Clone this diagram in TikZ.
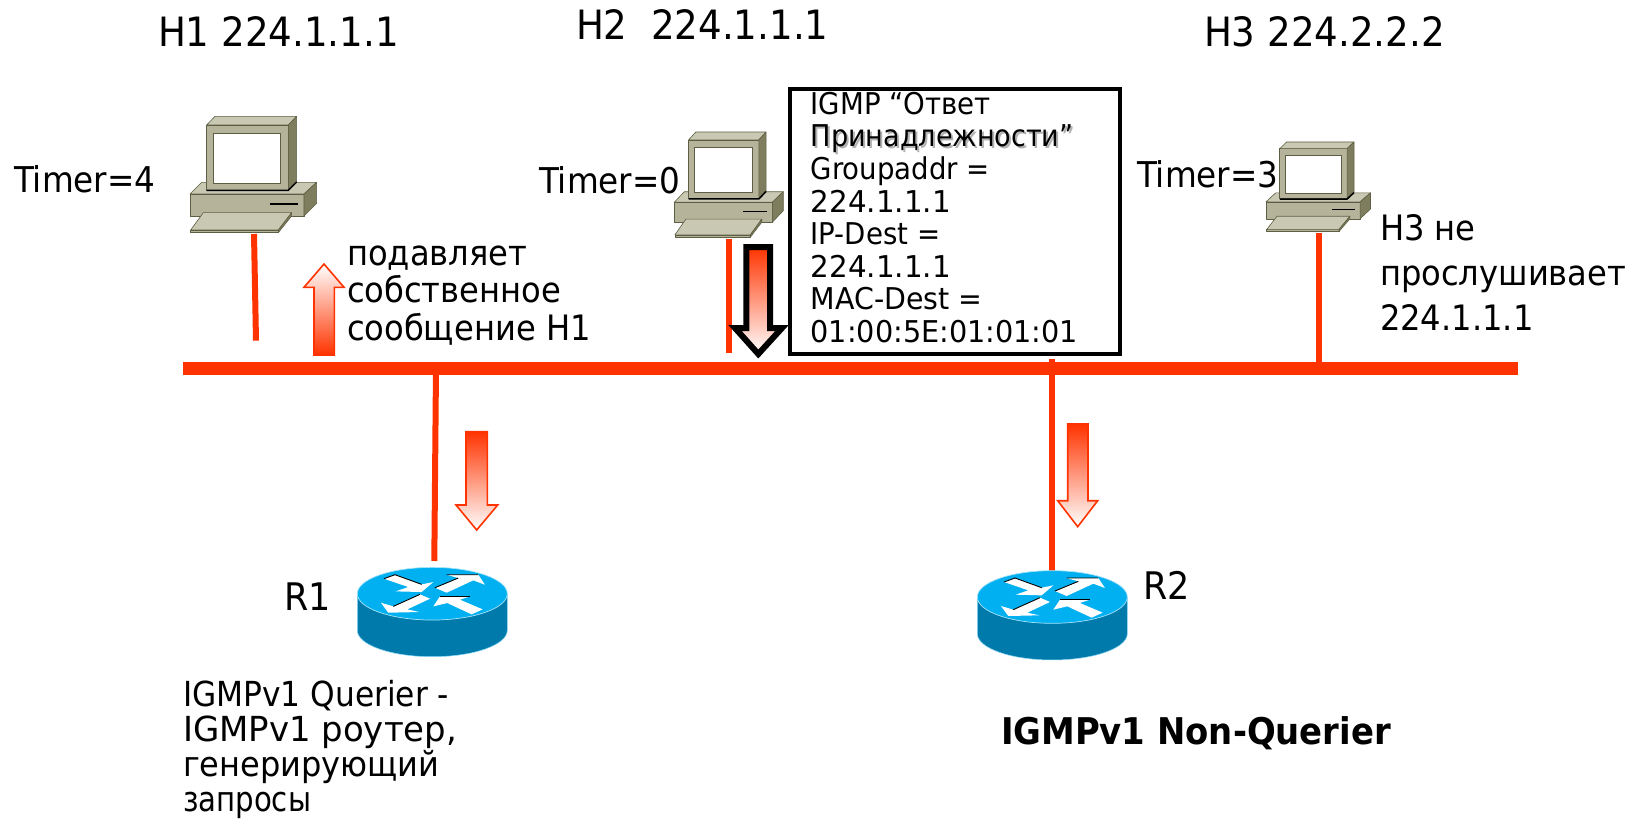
\documentclass[tikz,border=0pt]{standalone}
\usepackage{graphicx}
\usepackage{fontspec}
\setmainfont[FakeStretch=0.92]{DejaVu Sans}
\definecolor{netred}{HTML}{FF3300}
\definecolor{pcfront}{HTML}{B5B49A}
\definecolor{pctop}{HTML}{C9C8B2}
\definecolor{pcside}{HTML}{7E7E5E}
\definecolor{pcedge}{HTML}{5E5E44}
\definecolor{rttop}{HTML}{00B0F0}
\definecolor{rtside}{HTML}{0079AB}
\newcommand{\fs}[2]{\fontsize{#1}{#2}\selectfont}
\newcommand{\shadowed}[1]{\leavevmode\rlap{\raisebox{-2pt}{\hspace{2pt}\textcolor{black!30}{#1}}}#1}
\newcommand{\fl}{\rule{0pt}{30pt}}
\newcommand{\hs}[2]{\scalebox{#1}[1]{#2}}
\tikzset{
  x=1pt,y=-1pt,
  wire/.style={draw=netred,line width=6pt},
  bus/.style={draw=netred,line width=12.5pt},
  lbl/.style={inner sep=0pt,outer sep=0pt,anchor=base west,font=\fs{35.5}{38}},
  hostlbl/.style={lbl,font=\fs{40.4}{44}},
  mlbl/.style={inner sep=0pt,outer sep=0pt,anchor=north west,align=left},
  pcpart/.style={draw=pcedge,line width=.6pt,line join=round},
  upshade/.style={draw=netred,line width=1.6pt,top color=white,bottom color=netred,middle color=netred!50!white},
  downshade/.style={draw=netred,line width=1.6pt,top color=netred,bottom color=white,middle color=netred!50!white},
  pics/computer/.style={code={
    \path[pcpart,fill=pctop] (0,234)--(35,199)--(380,199)--(342,234)--cycle;
    \path[pcpart,fill=pcfront] (0,234) rectangle (342,300);
    \path[pcpart,fill=pcside] (342,234)--(380,199)--(380,262)--(342,300)--cycle;
    \draw[black,line width=1.5pt] (240,264)--(324,264);
    \path[pcpart,fill=pcfront] (50,27) rectangle (295,222);
    \path[pcpart,fill=pctop] (50,27)--(75,1)--(320,1)--(295,27)--cycle;
    \path[pcpart,fill=pcside] (295,27)--(320,1)--(320,197)--(295,222)--cycle;
    \draw[black,line width=1.5pt] (50,223)--(295,223)--(320,198);
    \path[draw=pcedge,line width=.5pt,fill=white] (70,52) rectangle (272,202);
    \path[pcpart,fill=pcfront] (2,342) rectangle (265,350);
    \path[pcpart,fill=pctop] (2,342)--(40,290)--(305,290)--(265,342)--cycle;
    \path[pcpart,fill=pcside] (265,342)--(305,290)--(305,300)--(265,350)--cycle;
  }},
  rtarrow/.style={fill=white},
  rtedge/.style={draw=black,line width=.9pt},
  pics/router/.style={code={
    \path[fill=rtside,draw=rttop!45!white,line width=.5pt] (-225,0)--(-225,110) arc[start angle=180,end angle=0,x radius=225,y radius=79]--(225,0)--cycle;
    \path[fill=rttop,draw=rttop!35!white,line width=.7pt] (0,0) ellipse[x radius=225,y radius=79];
    \fill[rtarrow] (-145,-45)--(-112,-57)--(-32,-28)--(3,-35)--(-32,-5)--(-110,-7)--(-72,-20)--cycle;
    \fill[rtarrow] (8,-18)--(78,-47)--(43,-57)--(138,-57)--(158,-27)--(123,-40)--(43,-3)--cycle;
    \fill[rtarrow] (-7,15)--(-37,2)--(-117,38)--(-154,27)--(-132,57)--(-39,55)--(-75,47)--cycle;
    \fill[rtarrow] (3,38)--(23,8)--(113,8)--(83,18)--(151,47)--(118,62)--(45,28)--cycle;
    \draw[rtedge] (-145,-45)--(-112,-57)--(-32,-28);
    \draw[rtedge] (8,-18)--(78,-47) (43,-57)--(138,-57);
    \draw[rtedge] (-37,2)--(-117,38);
    \draw[rtedge] (23,8)--(113,8);
  }}
}
\begin{document}
\begin{tikzpicture}
\useasboundingbox[fill=white] (0,0) rectangle (1643,821);

% labels above hosts
\node[hostlbl] (h1t) at (158,46.5) {H1 224.1.1.1};
\node[hostlbl] (h2t) at (576,40) {H2\ \ 224.1.1.1};
\node[hostlbl] (h3t) at (1204,46.7) {H3 224.2.2.2};
\node[lbl] (t1) at (14,192.7) {Timer=4};
\node[lbl] (t2) at (539,194) {Timer=0};
\node[lbl] (t3) at (1137,187.7) {Timer=3};

% hosts
\pic (pc1) [shift={(190,116)},xscale=.3333,yscale=.3333] {computer};
\pic (pc2) [shift={(674.3,131.7)},xscale=.2867,yscale=.3017] {computer};
\pic (pc3) [shift={(1266,141.7)},xscale=.275,yscale=.257] {computer};

% bus and wires
\coordinate (busL) at (183,368.5);
\coordinate (busR) at (1518,368.5);
\coordinate (h1a) at (254,234);
\coordinate (h1b) at (256,340.7);
\coordinate (h2a) at (729,239);
\coordinate (h2b) at (729,352.7);
\coordinate (h3a) at (1318.7,233);
\coordinate (h3b) at (1318.7,368);
\coordinate (r1a) at (436,368);
\coordinate (r1b) at (434.3,561);
\coordinate (r2a) at (1051.7,359);
\coordinate (r2b) at (1051.7,572);
\draw[wire] (h1a)--(h1b);
\draw[wire] (h2a)--(h2b);
\draw[wire] (h3a)--(h3b);
\draw[wire] (r1a)--(r1b);
\draw[wire] (r2a)--(r2b);
\draw[bus] (busL)--(busR);

% block arrows
\path[upshade] (314,355)--(314,287.3)--(304,287.3)--(324,264)--(344,287.3)--(334.3,287.3)--(334.3,355)--cycle;
\path[downshade] (466,431.7)--(466,505)--(456,505)--(476.7,530)--(497.7,505)--(487.3,505)--(487.3,431.7)--cycle;
\path[downshade] (1067.7,424)--(1067.7,500.7)--(1057.7,500.7)--(1077.7,526.7)--(1097.7,500.7)--(1088,500.7)--(1088,424)--cycle;
\path[draw=black,line width=6pt,miter limit=10,top color=netred,bottom color=white,middle color=netred!50!white] (746.3,247)--(746.3,328)--(735,328)--(758.3,354)--(782,328)--(770,328)--(770,247)--cycle;

% message box
\node[draw=black,fill=white,line width=4pt,minimum width=330pt,minimum height=265pt,inner sep=0pt,anchor=north west] (box) at (788.3,86.7) {};
\node[mlbl,font=\fs{30}{32.6}] (msg) at (810.7,84.3) {\fl IGMP “Ответ\\\shadowed{\hs{.98}{Принадлежности”}}\\Groupaddr =\\\hs{1.065}{224.1.1.1}\\IP-Dest =\\\hs{1.065}{224.1.1.1}\\\hs{1.03}{MAC-Dest =}\\\hs{1.04}{01:00:5E:01:01:01}};

% routers
\pic (r1) [shift={(432.3,593.7)},xscale=.3333,yscale=.3333] {router};
\pic (r2) [shift={(1052.3,597)},xscale=.3333,yscale=.3333] {router};

% other labels
\node[mlbl,font=\fs{35}{37.8}] (sup) at (347,235) {\fl подавляет\\собственное\\сообщение H1};
\node[mlbl,font=\fs{35}{45.3}] (nol) at (1380,210) {\fl H3 не\\прослушивает\\224.1.1.1};
\node[lbl,font=\fs{38}{40}] (r1t) at (284,610) {R1};
\node[lbl,font=\fs{38}{40}] (r2t) at (1143,599) {R2};
\node[mlbl,font=\fs{34.5}{35.2}] (qr) at (183,676) {\fl \hs{.985}{IGMPv1 Querier -}\\\hs{1.07}{IGMPv1 роутер,}\\\hs{1.01}{генерирующий}\\\hs{.92}{запросы}};
\node[lbl,font=\fs{36.8}{40}\bfseries] (nq) at (1001,744) {IGMPv1 Non-Querier};
\end{tikzpicture}
\end{document}
